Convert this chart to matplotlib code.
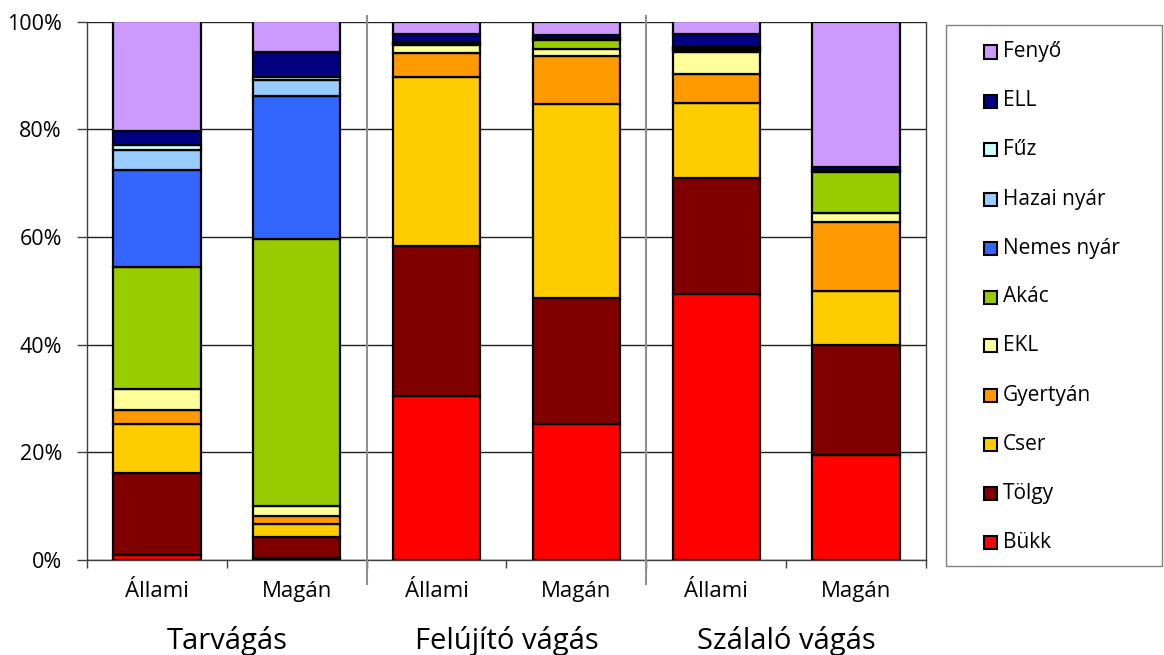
import matplotlib
matplotlib.use("Agg")
import matplotlib.pyplot as plt
from matplotlib.transforms import blended_transform_factory
from matplotlib.patches import Rectangle
import numpy as np

plt.rcParams['font.family'] = ['Open Sans', 'DejaVu Sans']

categories = ["Állami", "Magán", "Állami", "Magán", "Állami", "Magán"]
groups = ["Tarvágás", "Felújító vágás", "Szálaló vágás"]

species = ["Bükk", "Tölgy", "Cser", "Gyertyán", "EKL", "Akác",
           "Nemes nyár", "Hazai nyár", "Fűz", "ELL", "Fenyő"]
colors = ["#FF0000", "#800000", "#FFCC00", "#FF9900", "#FFFF99", "#99CC00",
          "#3366FF", "#99CCFF", "#CCFFFF", "#000080", "#CC99FF"]

# percentage shares per bar (order of categories)
bukk      = [1.0, 0.3, 30.5, 25.3, 49.4, 19.5]
tolgy     = [15.2, 4.0, 27.9, 23.4, 21.5, 20.5]
cser      = [9.1, 2.3, 31.3, 36.0, 13.9, 10.0]
gyertyan  = [2.6, 1.5, 4.5, 8.9, 5.4, 12.7]
ekl       = [3.8, 1.9, 1.4, 1.3, 4.2, 1.7]
akac      = [22.8, 49.7, 0.3, 1.6, 0.3, 7.6]
nemes     = [18.0, 26.4, 0.1, 0.2, 0.2, 0.2]
hazai     = [3.7, 3.0, 0.1, 0.1, 0.2, 0.1]
fuz       = [0.9, 0.6, 0.1, 0.1, 0.1, 0.1]
ell       = [2.5, 4.6, 1.4, 0.6, 2.5, 0.6]
fenyo     = [20.4, 5.8, 2.4, 2.5, 2.3, 27.0]

series = [bukk, tolgy, cser, gyertyan, ekl, akac, nemes, hazai, fuz, ell, fenyo]

W, H = 1164, 655
fig = plt.figure(figsize=(W / 100, H / 100), dpi=100)
ax = fig.add_axes([87 / W, 1 - 560 / H, (926 - 87) / W, (560 - 21.5) / H])

x = np.arange(len(categories))
bottom = np.zeros(len(categories))
for name, vals, col in zip(species, series, colors):
    v = np.array(vals, dtype=float)
    ax.bar(x, v, width=0.625, bottom=bottom, color=col, edgecolor='black',
           linewidth=1.6, label=name, zorder=3)
    bottom += v

ax.set_xlim(-0.5, 5.5)
ax.set_ylim(0, 100)
ax.set_yticks(np.arange(0, 101, 20))
ax.set_yticklabels([f"{v}%" for v in range(0, 101, 20)], fontsize=15.5)
ax.yaxis.grid(True, color='#202020', linewidth=1.0, zorder=0)
ax.set_axisbelow(True)

ax.set_xticks(x)
ax.set_xticklabels(categories, fontsize=16)
ax.tick_params(axis='x', which='major', length=0, pad=15)
ax.set_xticks(np.arange(-0.5, 5.6, 1), minor=True)
ax.tick_params(axis='x', which='minor', length=6, width=1, color='#404040')
ax.tick_params(axis='y', length=7, width=1, color='#404040', pad=11)

ax.spines['top'].set_visible(False)
for s in ['left', 'bottom', 'right']:
    ax.spines[s].set_color('#404040')
    ax.spines[s].set_linewidth(1.0)

trans = blended_transform_factory(ax.transData, ax.transAxes)
for xs in [1.5, 3.5]:
    ax.plot([xs, xs], [1.01, -0.045], transform=trans, color='#909090',
            linewidth=1.5, clip_on=False, zorder=5)

for i, g in enumerate(groups):
    ax.text(2 * i + 0.5, -(649 - 560) / (560 - 21.5), g, transform=trans,
            ha='center', va='baseline', fontsize=21)

# legend box (manual, figure pixel coordinates)
fig.add_artist(Rectangle((946 / W, 1 - 566 / H), (1162 - 946) / W, (566 - 25) / H,
                         transform=fig.transFigure, facecolor='white',
                         edgecolor='#808080', linewidth=1.0))
for i, (name, col) in enumerate(zip(species[::-1], colors[::-1])):
    yc = 52 + 49 * i
    fig.add_artist(Rectangle((984 / W, 1 - (yc + 6.5) / H), 13 / W, 13 / H,
                             transform=fig.transFigure, facecolor=col,
                             edgecolor='black', linewidth=1.5))
    fig.text(1003 / W, 1 - yc / H, name, ha='left', va='center', fontsize=15)

fig.savefig("out.png", dpi=100)
